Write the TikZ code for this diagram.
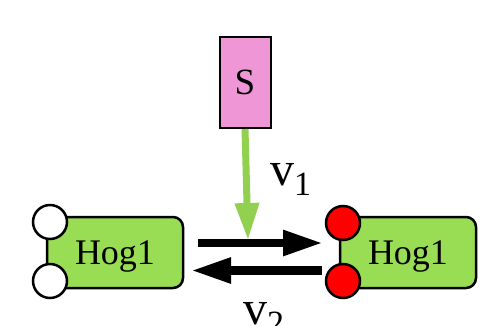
\documentclass[tikz,border=0pt]{standalone}
\usepackage{fontspec}
\setmainfont{Liberation Serif}
\usetikzlibrary{arrows.meta}
\definecolor{hoggreen}{RGB}{153,221,85}
\definecolor{spink}{RGB}{238,150,214}
\definecolor{argreen}{RGB}{146,208,80}
\definecolor{pred}{RGB}{255,0,0}
\tikzset{
  hogbox/.style={draw=black, line width=2.5pt, fill=hoggreen, rounded corners=10pt,
    minimum width=136pt, minimum height=71pt, inner sep=0pt, text depth=0pt,
    font=\fontsize{36}{36}\selectfont},
  sbox/.style={draw=black, line width=2pt, fill=spink, minimum width=51pt,
    minimum height=91pt, inner sep=0pt, text depth=0pt, font=\fontsize{37}{37}\selectfont},
  site/.style={circle, draw=black, line width=2.5pt, minimum size=34pt, inner sep=0pt},
  rxn/.style={line width=8.5pt, -{Triangle[length=40pt,width=24pt]}},
  act/.style={draw=argreen, line width=7pt, -{Triangle[length=37pt,width=23pt]}},
  vlab/.style={anchor=base west, inner sep=0pt, font=\fontsize{48}{48}\selectfont}
}
\begin{document}
\begin{tikzpicture}[x=1pt,y=-1pt]
\useasboundingbox (0,0) rectangle (493,325);
% nodes
\node[sbox] (S) at (245,82.5) {S};
\node[hogbox] (hogL) at (115,252.5) {Hog1};
\node[hogbox] (hogR) at (408,252.5) {Hog1};
\node[site, fill=white] (uL1) at (50,222) {};
\node[site, fill=white] (uL2) at (50,281) {};
\node[site, fill=pred] (pR1) at (343,223) {};
\node[site, fill=pred] (pR2) at (343,281) {};
% connector end points
\coordinate (fS) at (198,243);
\coordinate (fE) at (323,243);
\coordinate (bS) at (322,270.5);
\coordinate (bE) at (191,270.5);
\coordinate (cat) at (248,240);
% connectors
\draw[rxn] (fS) -- (fE);
\draw[rxn] (bS) -- (bE);
\draw[act] (S.south) -- (cat);
% labels
\node[vlab] (v1) at (270,185) {v\raisebox{-10pt}{\fontsize{34}{34}\selectfont 1}};
\node[vlab] (v2) at (243,324) {v\raisebox{-10pt}{\fontsize{34}{34}\selectfont 2}};
\end{tikzpicture}
\end{document}
